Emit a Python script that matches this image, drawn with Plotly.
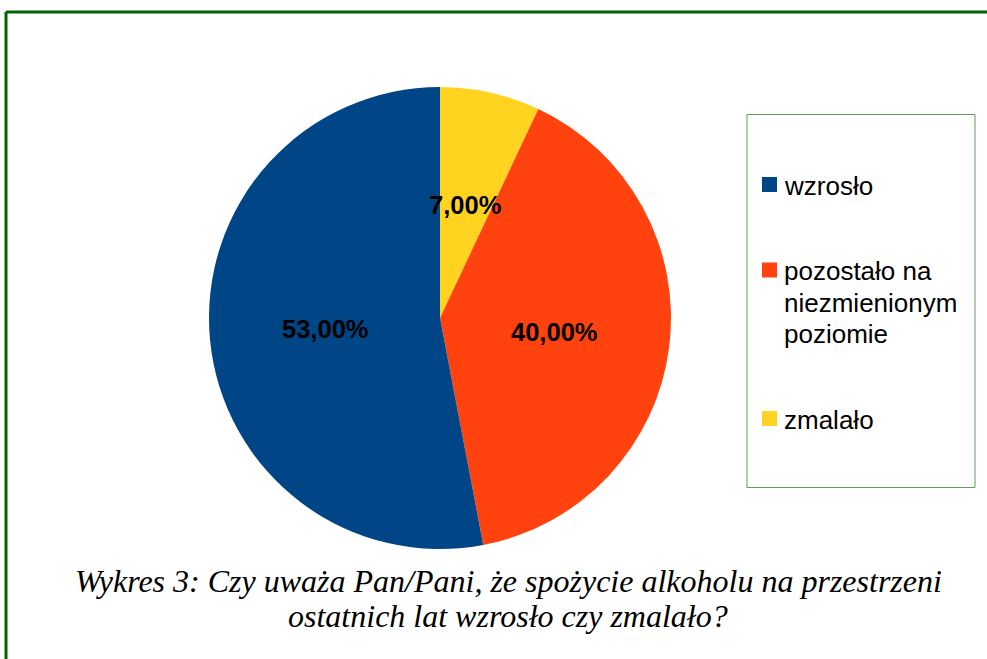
import math
import textwrap
import plotly.graph_objects as go

# ---- data ----
labels = ["wzrosło", "pozostało na niezmienionym poziomie", "zmalało"]
values = [53.0, 40.0, 7.0]
colors = ["#004586", "#ff420e", "#ffd320"]
caption_lines = [
    "Wykres 3: Czy uważa Pan/Pani, że spożycie alkoholu na przestrzeni",
    "ostatnich lat wzrosło czy zmalało?",
]

W, H = 987, 659


def px(x):
    return x / W


def py(y):
    return 1 - y / H


cx, cy, R = 440, 318, 231
text_labels = [f"{v:.2f}%".replace(".", ",") for v in values]

# pie drawn clockwise from 12 o'clock in reverse legend order
pie_labels = labels[::-1]
pie_values = values[::-1]
pie_colors = colors[::-1]

fig = go.Figure(
    go.Pie(
        labels=pie_labels,
        values=pie_values,
        marker=dict(colors=pie_colors, line=dict(width=0)),
        sort=False,
        direction="clockwise",
        rotation=0,
        textinfo="none",
        showlegend=False,
        hoverinfo="label+percent",
        domain=dict(x=[px(cx - R), px(cx + R)], y=[py(cy + R), py(cy - R)]),
    )
)

annotations = []
# value labels at mid-angle, half radius
total = sum(pie_values)
cum = 0.0
for v, t in zip(pie_values, text_labels[::-1]):
    mid = (cum + v / 2) / total * 2 * math.pi
    cum += v
    lx = cx + 0.5 * R * math.sin(mid)
    ly = cy - 0.5 * R * math.cos(mid)
    annotations.append(dict(xref="paper", yref="paper", x=px(lx), y=py(ly), xanchor="center",
                            yanchor="middle", showarrow=False, text=t,
                            font=dict(family="Liberation Sans", size=25.5, color="black", weight="bold")))

shapes = []
# outer frame (left and top edges visible)
shapes.append(dict(type="line", xref="paper", yref="paper", x0=px(6), x1=px(6), y0=py(12), y1=py(700),
                   line=dict(color="#006400", width=3)))
shapes.append(dict(type="line", xref="paper", yref="paper", x0=px(6), x1=px(1000), y0=py(12), y1=py(12),
                   line=dict(color="#006400", width=3)))
# legend box
shapes.append(dict(type="rect", xref="paper", yref="paper", x0=px(747), x1=px(975), y0=py(114.5), y1=py(487.5),
                   line=dict(color="#5f9f55", width=1), fillcolor="rgba(0,0,0,0)"))

legend_first_centers = [184.5, 270, 418.5]
line_pitch = 31.5
for lab, col, yc in zip(labels, colors, legend_first_centers):
    shapes.append(dict(type="rect", xref="paper", yref="paper", x0=px(762), x1=px(777),
                       y0=py(yc + 7.5), y1=py(yc - 7.5), line=dict(width=0), fillcolor=col))
    for i, ln in enumerate(textwrap.wrap(lab, 14)):
        annotations.append(dict(xref="paper", yref="paper", x=px(782), y=py(yc + 1 + i * line_pitch),
                                xanchor="left", yanchor="middle", showarrow=False, text=ln,
                                font=dict(family="Liberation Sans", size=26, color="black")))

for i, ln in enumerate(caption_lines):
    annotations.append(dict(xref="paper", yref="paper", x=px(508), y=py(581 + i * 35),
                            xanchor="center", yanchor="middle", showarrow=False, text=ln,
                            font=dict(family="Liberation Serif", size=32, color="black", style="italic")))

fig.update_layout(
    width=W,
    height=H,
    margin=dict(l=0, r=0, t=0, b=0),
    paper_bgcolor="white",
    plot_bgcolor="white",
    shapes=shapes,
    annotations=annotations,
)

fig.write_html(
    "out.html",
    config={"displayModeBar": False},
    post_script="document.body.style.margin='0';document.body.style.padding='0';"
                "document.body.style.overflow='hidden';",
)
